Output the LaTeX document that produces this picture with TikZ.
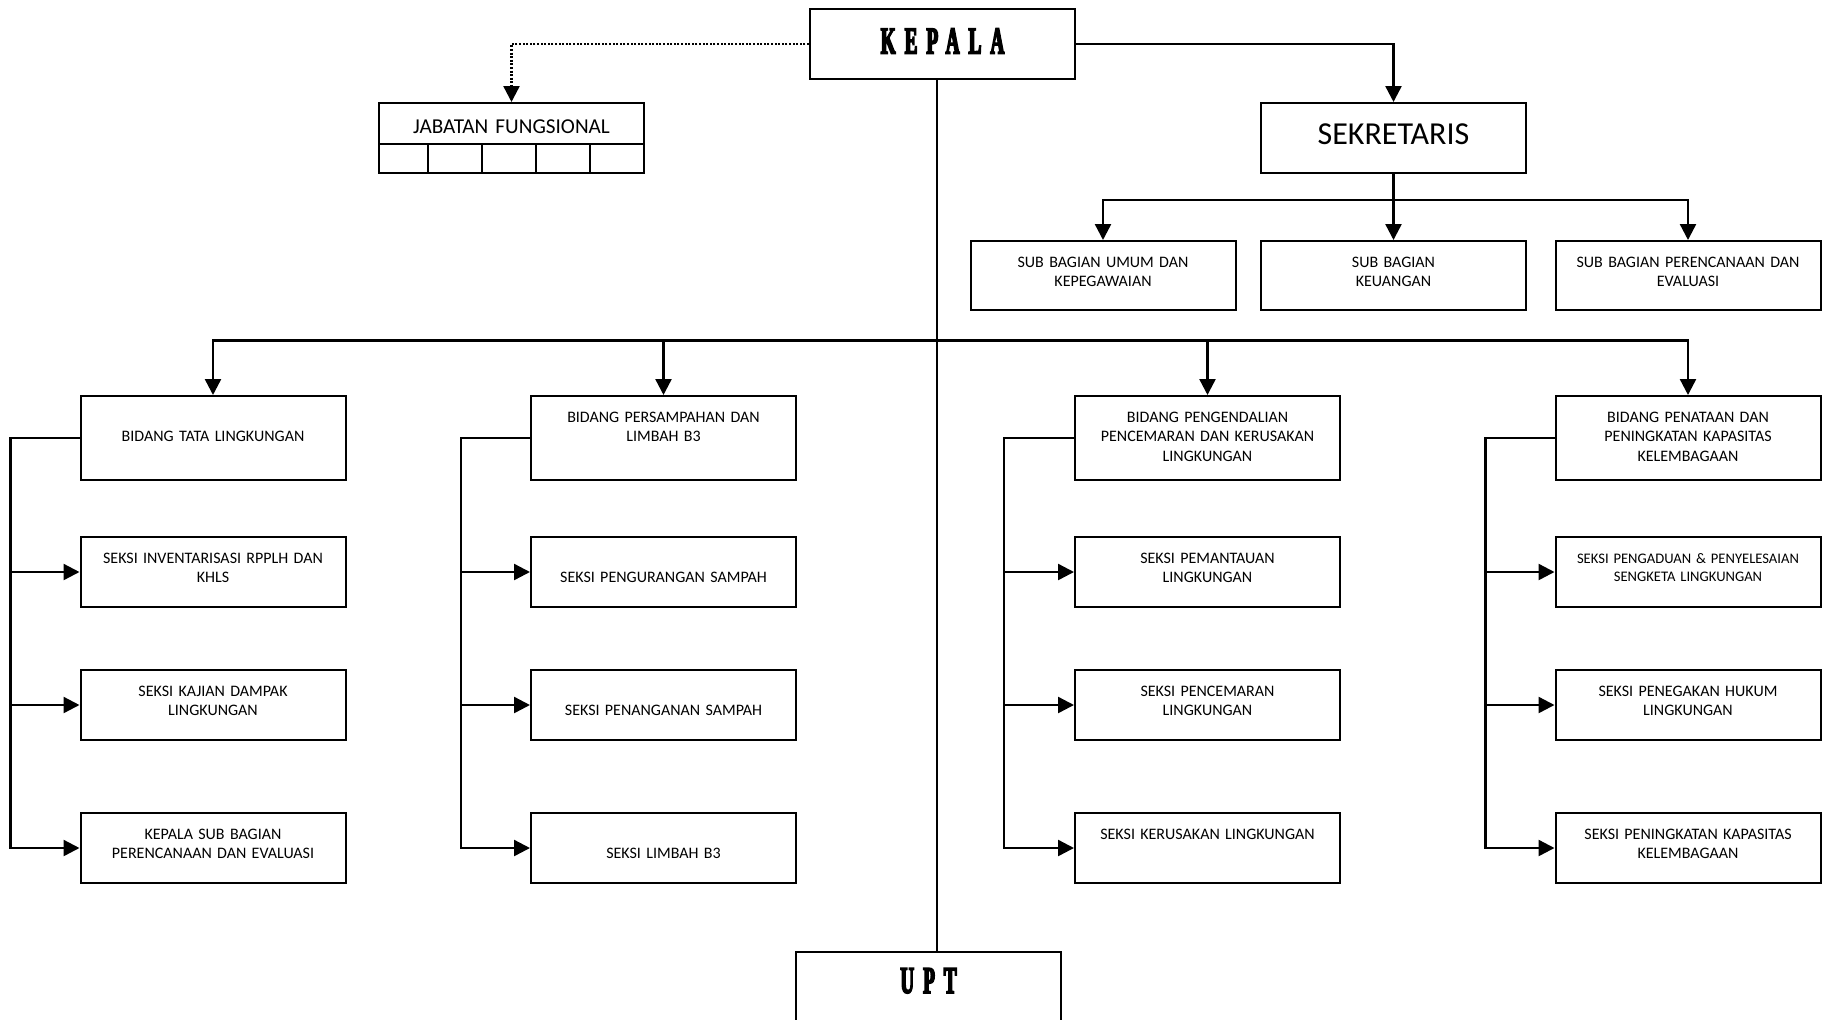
\documentclass[tikz,border=0pt]{standalone}
\usepackage{fontspec}
\setmainfont{Carlito}
\newfontfamily\headfont[FakeStretch=0.5,FakeBold=4,LetterSpace=24]{Liberation Serif}
\usetikzlibrary{arrows.meta}

\tikzset{
  box/.style={draw, line width=1pt, inner sep=0pt, text width=132.5pt, align=center,
    font=\fontsize{8}{9.75}\selectfont},
  subbox/.style={box, text height=13pt, text depth=21.5pt},
  bidbox/.style={box, text height=13pt, text depth=29pt},
  seksibox/.style={box, text height=13pt, text depth=22pt},
  line/.style={line width=1.2pt},
  arr/.style={line, -{Triangle[length=8pt,width=8pt]}},
}

\begin{document}
\begin{tikzpicture}[x=0.5pt, y=-0.5pt]
  \useasboundingbox (0,0) rectangle (1822,1019);

  % Kepala, UPT
  \node[box, text height=22.25pt, text depth=12.75pt,
    font=\headfont\bfseries\fontsize{19}{22}\selectfont] (kepala) at (942.5,44) {KEPALA};
  \node[box, text height=20.5pt, text depth=14.5pt,
    font=\headfont\bfseries\fontsize{19}{22}\selectfont] (upt) at (928.5,987) {UPT};

  % Jabatan fungsional
  \node[box, text height=15.25pt, text depth=19.75pt,
    font=\fontsize{10.6}{12}\selectfont] (jab) at (511.5,138) {JABATAN FUNGSIONAL};
  \draw[line width=1pt] (379,144) -- (644,144);
  \draw[line width=1pt] (428,144) -- (428,173);
  \draw[line width=1pt] (481.5,144) -- (481.5,173);
  \draw[line width=1pt] (536,144) -- (536,173);
  \draw[line width=1pt] (590,144) -- (590,173);

  % Sekretaris
  \node[box, text height=20.5pt, text depth=14.5pt,
    font=\fontsize{16}{19}\selectfont] (sek) at (1393.5,138) {SEKRETARIS};

  % Sub bagian
  \node[subbox] (sub1) at (1103,275.5) {SUB BAGIAN UMUM DAN\\KEPEGAWAIAN};
  \node[subbox] (sub2) at (1393.5,275.5) {SUB BAGIAN\\KEUANGAN};
  \node[subbox] (sub3) at (1688,275.5) {SUB BAGIAN PERENCANAAN DAN\\EVALUASI};

  % Bidang
  \node[bidbox] (b1) at (213,438) {\mbox{}\\BIDANG TATA LINGKUNGAN};
  \node[bidbox] (b2) at (663.5,438) {BIDANG PERSAMPAHAN DAN\\LIMBAH B3};
  \node[bidbox] (b3) at (1207.5,438) {BIDANG PENGENDALIAN\\PENCEMARAN DAN KERUSAKAN\\LINGKUNGAN};
  \node[bidbox] (b4) at (1688,438) {BIDANG PENATAAN DAN\\PENINGKATAN KAPASITAS\\KELEMBAGAAN};

  % Seksi bidang tata lingkungan
  \node[seksibox] (s11) at (213,572) {SEKSI INVENTARISASI RPPLH DAN\\KHLS};
  \node[seksibox] (s12) at (213,705) {SEKSI KAJIAN DAMPAK\\LINGKUNGAN};
  \node[seksibox] (s13) at (213,848) {KEPALA SUB BAGIAN\\PERENCANAAN DAN EVALUASI};

  % Seksi bidang persampahan
  \node[seksibox] (s21) at (663.5,572) {\mbox{}\\SEKSI PENGURANGAN SAMPAH};
  \node[seksibox] (s22) at (663.5,705) {\mbox{}\\SEKSI PENANGANAN SAMPAH};
  \node[seksibox] (s23) at (663.5,848) {\mbox{}\\SEKSI LIMBAH B3};

  % Seksi bidang pengendalian
  \node[seksibox] (s31) at (1207.5,572) {SEKSI PEMANTAUAN\\LINGKUNGAN};
  \node[seksibox] (s32) at (1207.5,705) {SEKSI PENCEMARAN\\LINGKUNGAN};
  \node[seksibox] (s33) at (1207.5,848) {SEKSI KERUSAKAN LINGKUNGAN};

  % Seksi bidang penataan
  \node[seksibox, font=\fontsize{7.3}{9.3}\selectfont] (s41) at (1688,572)
    {SEKSI PENGADUAN \& PENYELESAIAN\\SENGKETA LINGKUNGAN};
  \node[seksibox] (s42) at (1688,705) {SEKSI PENEGAKAN HUKUM\\LINGKUNGAN};
  \node[seksibox] (s43) at (1688,848) {SEKSI PENINGKATAN KAPASITAS\\KELEMBAGAAN};

  % Garis komando utama
  \coordinate (trunk) at (936.5,79);
  \coordinate (bus) at (936.5,340.5);
  \draw[line width=1pt] (trunk) -- (trunk |- upt.north);
  \draw[arr] (bus) -| (b1.north);
  \draw[arr] (bus) -| (b2.north);
  \draw[arr] (bus) -| (b3.north);
  \draw[arr] (bus) -| (b4.north);

  % Kepala ke sekretaris dan jabatan fungsional
  \draw[arr] (kepala.east) -| (sek.north);
  \draw[line width=1.2pt, dash pattern=on 1pt off 0.8pt, -{Triangle[length=8pt,width=8pt]}]
    (kepala.west) -| (jab.north);

  % Sekretaris ke sub bagian
  \coordinate (sekbus) at (1393.5,200);
  \draw[line] (sek.south) -- (sekbus);
  \draw[arr] (sekbus) -| (sub1.north);
  \draw[arr] (sekbus) -- (sub2.north);
  \draw[arr] (sekbus) -| (sub3.north);

  % Bidang ke seksi
  \draw[arr] (b1.west) -- ++(-69,0) coordinate (k1) |- (s13.west);
  \draw[arr] (k1 |- s11.west) -- (s11.west);
  \draw[arr] (k1 |- s12.west) -- (s12.west);

  \draw[arr] (b2.west) -- ++(-69,0) coordinate (k2) |- (s23.west);
  \draw[arr] (k2 |- s21.west) -- (s21.west);
  \draw[arr] (k2 |- s22.west) -- (s22.west);

  \draw[arr] (b3.west) -- ++(-70,0) coordinate (k3) |- (s33.west);
  \draw[arr] (k3 |- s31.west) -- (s31.west);
  \draw[arr] (k3 |- s32.west) -- (s32.west);

  \draw[arr] (b4.west) -- ++(-69,0) coordinate (k4) |- (s43.west);
  \draw[arr] (k4 |- s41.west) -- (s41.west);
  \draw[arr] (k4 |- s42.west) -- (s42.west);
\end{tikzpicture}
\end{document}
